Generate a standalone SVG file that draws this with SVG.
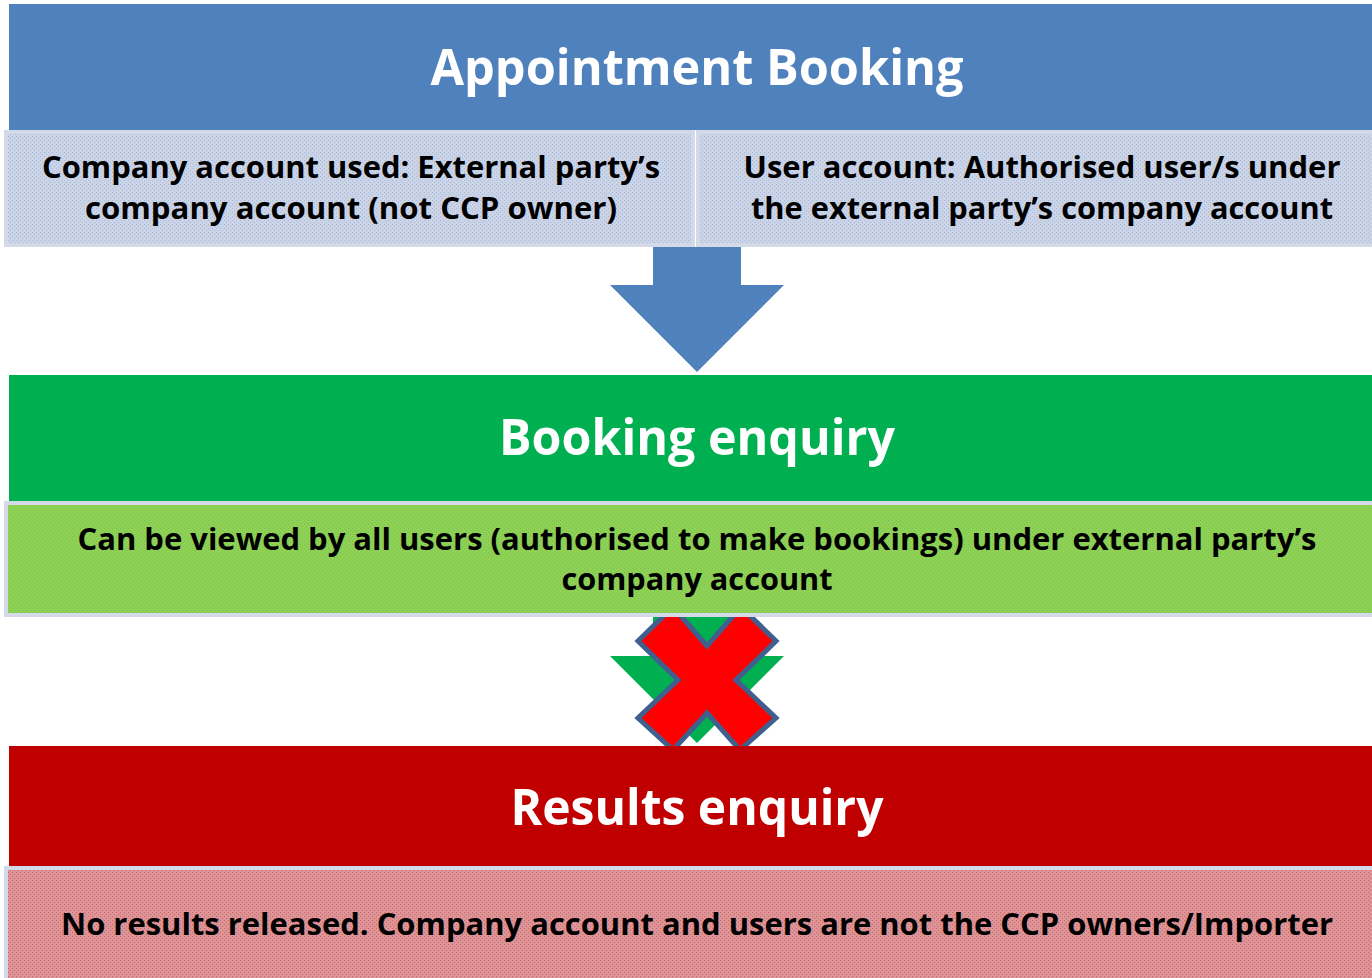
<svg xmlns="http://www.w3.org/2000/svg" width="1372" height="978" viewBox="0 0 1372 978">
<style>
.hdr{font-family:"Open Sans","Liberation Sans",sans-serif;font-weight:bold;fill:#fff;text-anchor:middle}
.sub{font-family:"Open Sans","Liberation Sans",sans-serif;font-weight:bold;fill:#000;text-anchor:middle;font-size:30px}
.box{stroke:#D3D9E6;stroke-width:4}
</style>
<defs>
<pattern id="pb" width="4" height="4" patternUnits="userSpaceOnUse"><rect width="4" height="4" fill="#CBD4E6"/><rect x="0" y="0" width="1" height="1" fill="#A9B9DA"/><rect x="2" y="2" width="1" height="1" fill="#A9B9DA"/></pattern>
<pattern id="pg" width="4" height="4" patternUnits="userSpaceOnUse"><rect width="4" height="4" fill="#90D052"/><rect x="0" y="0" width="1" height="1" fill="#6CC45A"/><rect x="2" y="2" width="1" height="1" fill="#6CC45A"/></pattern>
<pattern id="pr" width="4" height="4" patternUnits="userSpaceOnUse"><rect width="4" height="4" fill="#DC9496"/><rect x="0" y="0" width="1" height="1" fill="#D0646A"/><rect x="2" y="2" width="1" height="1" fill="#D0646A"/></pattern>
</defs>

<g id="connectors">
<polygon id="arrow-blue" points="653,247 741,247 741,285 784,285 697,372 610,285 653,285" fill="#4F81BD"/>
<polygon id="arrow-green" points="653,617 741,617 741,656 784,656 697,743 610,656 653,656" fill="#00B050"/>
<polygon id="cross" points="638,641 673,607 707,646 741,607 776,641 736,680 776,718 740,750 707,713 673,750 638,718 678,680" fill="#FF0000" stroke="#3F5F8E" stroke-width="5" stroke-linejoin="miter"/>
</g>

<g id="appointment-booking">
<rect x="9" y="4" width="1363" height="126" fill="#4F81BD"/>
<text class="hdr" x="697" y="85" font-size="50" textLength="533" lengthAdjust="spacingAndGlyphs">Appointment Booking</text>
</g>
<g id="company-account">
<rect class="box" x="6" y="132" width="687" height="113" fill="url(#pb)"/>
<text class="sub" x="351" y="178" textLength="618" lengthAdjust="spacingAndGlyphs">Company account used: External party’s</text>
<text class="sub" x="351" y="219" textLength="532" lengthAdjust="spacingAndGlyphs">company account (not CCP owner)</text>
</g>
<g id="user-account">
<rect class="box" x="698" y="132" width="676" height="113" fill="url(#pb)"/>
<text class="sub" x="1042" y="178" textLength="597" lengthAdjust="spacingAndGlyphs">User account: Authorised user/s under</text>
<text class="sub" x="1042" y="219" textLength="582" lengthAdjust="spacingAndGlyphs">the external party’s company account</text>
</g>

<g id="booking-enquiry">
<rect x="9" y="375" width="1363" height="126" fill="#00B050"/>
<text class="hdr" x="697" y="455" font-size="50" textLength="396" lengthAdjust="spacingAndGlyphs">Booking enquiry</text>
</g>
<g id="booking-detail">
<rect class="box" x="6" y="503" width="1368" height="112" fill="url(#pg)"/>
<text class="sub" x="697" y="550" textLength="1239" lengthAdjust="spacingAndGlyphs">Can be viewed by all users (authorised to make bookings) under external party’s</text>
<text class="sub" x="697" y="590" textLength="271" lengthAdjust="spacingAndGlyphs">company account</text>
</g>

<g id="results-enquiry">
<rect x="9" y="746" width="1363" height="120" fill="#C00000"/>
<text class="hdr" x="697" y="825" font-size="50" textLength="373" lengthAdjust="spacingAndGlyphs">Results enquiry</text>
</g>
<g id="results-detail">
<rect class="box" x="6" y="868" width="1368" height="114" fill="url(#pr)"/>
<text class="sub" x="697" y="935" textLength="1272" lengthAdjust="spacingAndGlyphs">No results released. Company account and users are not the CCP owners/Importer</text>
</g>
</svg>
